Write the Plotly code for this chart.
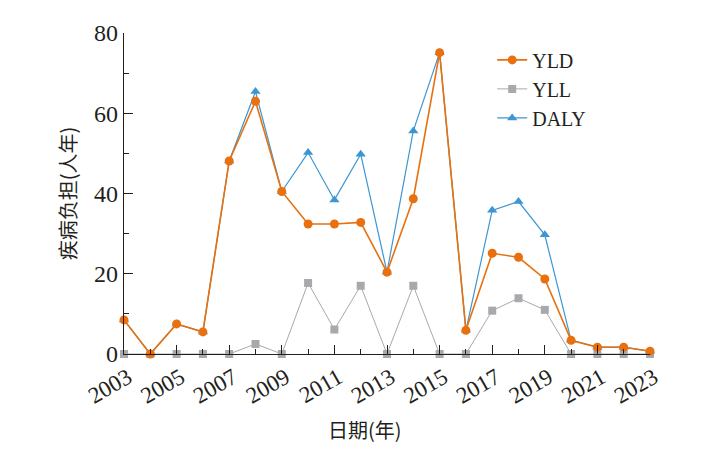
import plotly.graph_objects as go

# Disease burden per year
years = list(range(2003, 2024))
yld = [8.5, 0, 7.5, 5.5, 48.1, 63.0, 40.5, 32.4, 32.4, 32.8, 20.4, 38.7,
       75.1, 5.9, 25.1, 24.1, 18.7, 3.4, 1.7, 1.7, 0.7]
yll = [0, 0, 0, 0, 0, 2.5, 0, 17.7, 6.1, 17.0, 0, 17.0,
       0, 0, 10.8, 13.9, 11.0, 0, 0, 0, 0]
daly = [8.5, 0, 7.5, 5.5, 48.1, 65.4, 40.5, 50.2, 38.4, 49.8, 20.4, 55.6,
        75.1, 5.9, 35.8, 38.0, 29.7, 3.4, 1.7, 1.7, 0.7]

serif = "Liberation Serif"
cjk = "Noto Sans CJK SC"

fig = go.Figure()
# Draw order: YLL at the bottom, then DALY, YLD on top; legend order via legendrank
fig.add_trace(go.Scatter(x=years, y=yll, mode='lines+markers', name='YLL',
                         line=dict(color='#a7a9ac', width=1),
                         marker=dict(symbol='square', size=8, color='#a7a9ac'),
                         cliponaxis=False, legendrank=2))
fig.add_trace(go.Scatter(x=years, y=daly, mode='lines+markers', name='DALY',
                         line=dict(color='#3d96d2', width=1.2),
                         marker=dict(symbol='triangle-up', size=9, color='#3d96d2'),
                         cliponaxis=False, legendrank=3))
fig.add_trace(go.Scatter(x=years, y=yld, mode='lines+markers', name='YLD',
                         line=dict(color='#e8700e', width=1.6),
                         marker=dict(symbol='circle', size=9, color='#e8700e'),
                         cliponaxis=False, legendrank=1))

# page body has an 8px margin, so the figure is a bit smaller than the window
fig.update_layout(
    width=700, height=437,
    margin=dict(l=116, r=58, t=25, b=91, autoexpand=False),
    paper_bgcolor='white', plot_bgcolor='white',
    font=dict(family=serif, size=20, color='#231f20'),
    showlegend=True,
    legend=dict(x=0.70, y=0.977, xanchor='left', yanchor='top',
                bgcolor='rgba(0,0,0,0)', font=dict(family=serif, size=20),
                itemwidth=30),
)

fig.update_xaxes(
    range=[2003, 2023], tick0=2003, dtick=2, tickangle=-30,
    ticks='inside', ticklen=9, tickcolor='#231f20',
    minor=dict(ticks='inside', dtick=1, ticklen=5, tickcolor='#231f20'),
    showline=True, linecolor='#231f20', linewidth=1.2,
    showgrid=False, zeroline=False, automargin=False,
    tickfont=dict(family=serif, size=23), ticklabelshift=4,
)
fig.update_yaxes(
    range=[0, 80], dtick=20,
    ticks='inside', ticklen=9, tickcolor='#231f20',
    minor=dict(ticks='inside', dtick=10, ticklen=5, tickcolor='#231f20'),
    showline=True, linecolor='#231f20', linewidth=1.2,
    showgrid=False, zeroline=False, automargin=False,
    tickfont=dict(family=serif, size=24),
    title=dict(text='疾病负担(人年)', font=dict(family=cjk, size=20), standoff=12),
)

# x title sits a little left of the plot centre in the reference
fig.add_annotation(text='日期(年)', xref='paper', yref='paper', x=0.458, y=-0.236,
                   showarrow=False, xanchor='center', yanchor='middle',
                   font=dict(family=cjk, size=20))

fig.write_html("out.html")
